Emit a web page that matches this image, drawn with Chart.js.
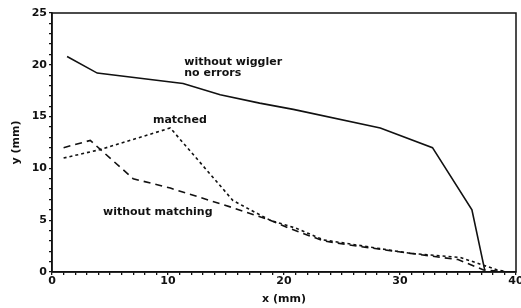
<!DOCTYPE html>
<html>
<head>
<meta charset="utf-8">
<script src="https://cdn.jsdelivr.net/npm/chart.js@4/dist/chart.umd.min.js"></script>
<style>
    html, body { margin: 0; padding: 0; background: #fff; }
    #wrap { width: 521px; height: 308px; }
</style>
</head>
<body>
<div id="wrap"><canvas id="chart" width="521" height="308"></canvas></div>
<script>
// curve: without wiggler, no errors (solid)
const noErrX = [1.3, 3.9, 11.3, 14.5, 17.9, 20.8, 28.3, 32.8, 36.2, 37.3]
const noErrY = [20.8, 19.2, 18.2, 17.1, 16.3, 15.7, 13.9, 12.0, 6.0, 0.2]

// curve: matched (dotted)
const matchedX = [1.0, 4.1, 10.2, 15.6, 17.1, 18.8, 21.1, 23.4, 26.3, 30.9, 35.2, 38.4, 39.3]
const matchedY = [11.0, 11.8, 13.9, 6.9, 6.0, 5.0, 4.2, 3.1, 2.6, 1.8, 1.4, 0.2, 0]

// curve: without matching (dashed)
const noMatchX = [1.0, 3.3, 7.0, 10.2, 15.6, 18.8, 20.5, 23.4, 26.3, 30.9, 35.0, 37.2, 39.3]
const noMatchY = [12.0, 12.7, 9.0, 8.1, 6.2, 5.0, 4.2, 3.0, 2.5, 1.8, 1.2, 0.2, 0]

const xTickLabels = [0, 10, 20, 30, 40]
const yTickLabels = [0, 5, 10, 15, 20, 25]

// in-plot text labels: [text, x, y]
const notes = [
    ['without wiggler', 11.4, 20.3],
    ['no errors', 11.4, 19.2],
    ['matched', 8.7, 14.7],
    ['without matching', 4.4, 5.8]
]

const FONT = 'bold 11px "DejaVu Sans", sans-serif'
const INK = '#111'

const toPoints = (xs, ys) => xs.map((x, i) => ({ x: x, y: ys[i] }))

const frame = {
    id: 'frame',
    afterDraw(chart) {
        const { ctx, chartArea: a, scales } = chart
        ctx.save()
        ctx.strokeStyle = INK
        ctx.lineWidth = 1.5
        ctx.strokeRect(a.left, a.top, a.right - a.left, a.bottom - a.top)

        ctx.fillStyle = INK
        ctx.font = FONT
        ctx.textBaseline = 'middle'
        ctx.textAlign = 'left'
        notes.forEach(n => {
            ctx.fillText(n[0], scales.x.getPixelForValue(n[1]), scales.y.getPixelForValue(n[2]))
        })
        ctx.restore()
    }
}

new Chart(document.getElementById('chart'), {
    type: 'scatter',
    data: {
        datasets: [
            {
                label: 'without wiggler no errors',
                data: toPoints(noErrX, noErrY),
                showLine: true,
                borderColor: INK,
                borderWidth: 1.6,
                pointRadius: 0
            },
            {
                label: 'matched',
                data: toPoints(matchedX, matchedY),
                showLine: true,
                borderColor: INK,
                borderWidth: 1.6,
                borderDash: [3, 3],
                pointRadius: 0
            },
            {
                label: 'without matching',
                data: toPoints(noMatchX, noMatchY),
                showLine: true,
                borderColor: INK,
                borderWidth: 1.6,
                borderDash: [7, 5],
                pointRadius: 0
            }
        ]
    },
    options: {
        responsive: false,
        animation: false,
        layout: { padding: { top: 13, right: 5, left: 0, bottom: 0 } },
        plugins: {
            legend: { display: false },
            tooltip: { enabled: false }
        },
        scales: {
            x: {
                type: 'linear',
                min: 0,
                max: 40,
                border: { display: true, color: INK, width: 1.5 },
                grid: { drawOnChartArea: false, color: INK, tickLength: 3, lineWidth: 1.3 },
                ticks: {
                    stepSize: 1,
                    autoSkip: false,
                    maxRotation: 0,
                    padding: 0,
                    color: INK,
                    font: { family: '"DejaVu Sans", sans-serif', size: 11, weight: 'bold' },
                    callback: v => xTickLabels.includes(v) ? String(v) : ''
                },
                title: {
                    display: true,
                    text: 'x (mm)',
                    color: INK,
                    padding: { top: 0, bottom: 2 },
                    font: { family: '"DejaVu Sans", sans-serif', size: 11, weight: 'bold' }
                },
                afterFit(scale) {
                    scale.height = 36
                    scale.paddingLeft = 0
                    scale.paddingRight = 0
                }
            },
            y: {
                type: 'linear',
                min: 0,
                max: 25,
                border: { display: true, color: INK, width: 1.5 },
                grid: { drawOnChartArea: false, color: INK, tickLength: 3, lineWidth: 1.3 },
                ticks: {
                    stepSize: 1,
                    autoSkip: false,
                    padding: 2,
                    color: INK,
                    font: { family: '"DejaVu Sans", sans-serif', size: 11, weight: 'bold' },
                    callback: v => yTickLabels.includes(v) ? String(v) : ''
                },
                title: {
                    display: true,
                    text: 'y (mm)',
                    color: INK,
                    padding: { top: 10, bottom: 0 },
                    font: { family: '"DejaVu Sans", sans-serif', size: 11, weight: 'bold' }
                },
                afterFit(scale) {
                    scale.width = 52
                    scale.paddingTop = 0
                    scale.paddingBottom = 0
                }
            }
        }
    },
    plugins: [frame]
})
</script>
</body>
</html>
